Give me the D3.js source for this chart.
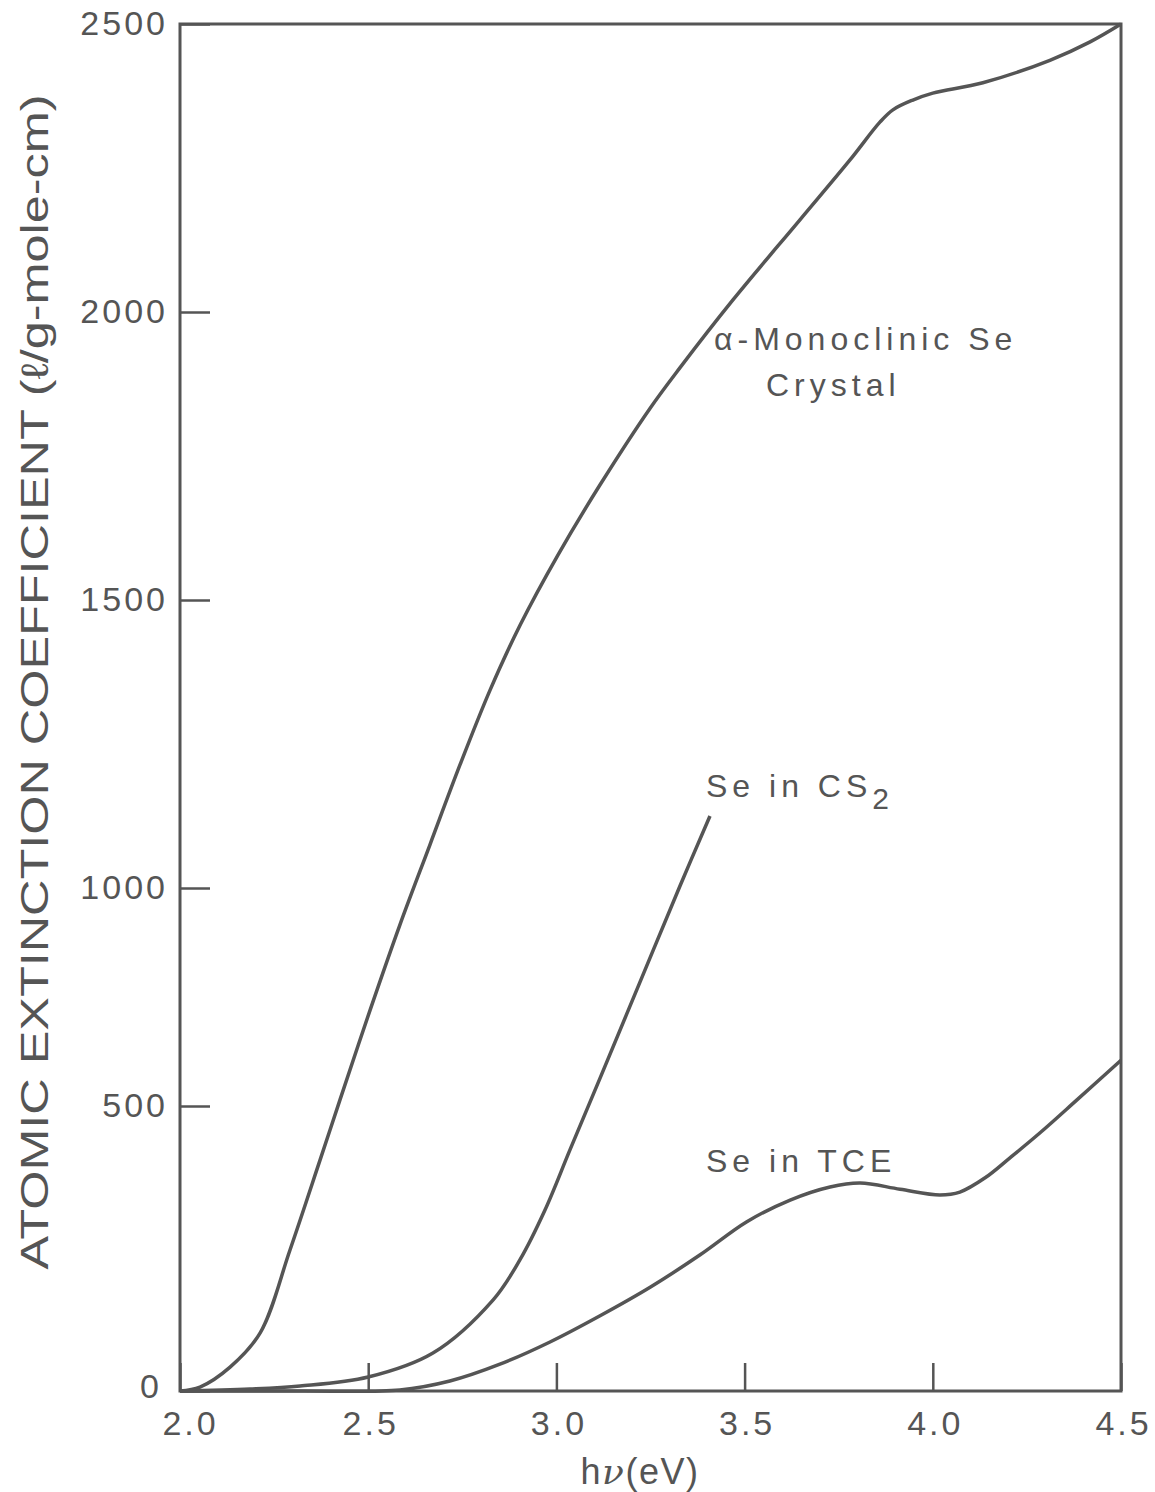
<!DOCTYPE html>
<html>
<head>
<meta charset="utf-8">
<script src="https://cdn.jsdelivr.net/npm/d3@7"></script>
<style>
  body { margin: 0; background: #fff; }
  svg text { fill: #555; font-family: "Liberation Sans", "DejaVu Sans", sans-serif; }
</style>
</head>
<body>
<div class="chart"></div>
<script>
// hν (eV) and extinction values
const monoX = [2.0, 2.053, 2.133, 2.213, 2.292, 2.372, 2.425, 2.505, 2.584, 2.664, 2.744, 2.824, 2.904, 3.004, 3.116, 3.249, 3.328, 3.469, 3.647, 3.780, 3.860, 3.894, 3.947, 4.0, 4.133, 4.311, 4.418, 4.5];
const monoY = [0, 7, 42, 102, 247, 405, 514, 720, 915, 1075, 1214, 1344, 1457, 1578, 1700, 1833, 1903, 2021, 2160, 2264, 2330, 2351, 2368, 2380, 2398, 2437, 2469, 2500];

const cs2X = [2.0, 2.186, 2.319, 2.5, 2.672, 2.832, 2.903, 2.970, 3.036, 3.116, 3.222, 3.328, 3.408];
const cs2Y = [0, 3.5, 8.8, 24.6, 66.7, 160, 230, 318, 423, 564, 784, 1003, 1125];

const tceX = [2.0, 2.319, 2.584, 2.717, 2.850, 2.983, 3.116, 3.249, 3.382, 3.506, 3.621, 3.727, 3.807, 3.913, 4.019, 4.072, 4.139, 4.205, 4.285, 4.383, 4.5];
const tceY = [0, 0, 1.8, 17.5, 47, 86, 132, 182, 239, 297, 335, 358, 365, 354, 344, 349, 374, 409, 453, 514, 605];

const xTicks = [2.0, 2.5, 3.0, 3.5, 4.0, 4.5];
const yTicks = [0, 500, 1000, 1500, 2000, 2500];

const width = 1155, height = 1492;
const plotLeft = 180, plotRight = 1121, plotTop = 24, plotBottom = 1391;

const svg = d3.select(".chart").append("svg")
  .attr("width", width)
  .attr("height", height);

const x = d3.scaleLinear().domain([2.0, 4.5]).range([plotLeft, plotRight]);
// the printed axis is not evenly spaced, so follow each tick mark
const y = d3.scaleLinear().domain(yTicks).range([1391, 1106, 888, 600, 312, 24]);

const ink = "#555";

// frame
svg.append("rect")
  .attr("x", plotLeft).attr("y", plotTop)
  .attr("width", plotRight - plotLeft).attr("height", plotBottom - plotTop)
  .attr("fill", "none").attr("stroke", ink).attr("stroke-width", 3);

// x axis
const gx = svg.append("g")
  .attr("transform", `translate(0,${plotBottom})`)
  .call(d3.axisBottom(x).tickValues(xTicks).tickSize(-28).tickPadding(20).tickFormat(d3.format(".1f")));
gx.select(".domain").remove();
gx.selectAll(".tick line").attr("stroke", ink).attr("stroke-width", 2.5);
gx.selectAll(".tick text")
  .attr("font-size", 34).attr("letter-spacing", 3).attr("fill", ink)
  .attr("dx", (d) => (d === 2.0 ? 10 : 2));

// y axis
const gy = svg.append("g")
  .attr("transform", `translate(${plotLeft},0)`)
  .call(d3.axisLeft(y).tickValues(yTicks).tickSize(-30).tickPadding(12).tickFormat(d3.format("d")));
gy.select(".domain").remove();
gy.selectAll(".tick line").attr("stroke", ink).attr("stroke-width", 2.5);
gy.selectAll(".tick text")
  .attr("font-size", 34).attr("letter-spacing", 3).attr("fill", ink)
  .attr("dx", (d) => (d === 0 ? -6 : 0))
  .attr("dy", (d) => (d === 0 ? "0.2em" : "0.32em"));

// axis titles
svg.append("text")
  .attr("transform", "translate(48,682) rotate(-90)")
  .attr("text-anchor", "middle")
  .attr("font-size", 38)
  .attr("textLength", 1175)
  .attr("lengthAdjust", "spacingAndGlyphs")
  .attr("font-family", "'Liberation Sans Narrow', 'Liberation Sans', sans-serif")
  .text("ATOMIC EXTINCTION COEFFICIENT (ℓ/g-mole-cm)");

const xt = svg.append("text")
  .attr("x", 640).attr("y", 1484)
  .attr("text-anchor", "middle")
  .attr("font-size", 36)
  .attr("letter-spacing", 1.5);
xt.append("tspan").text("h");
xt.append("tspan").attr("font-style", "italic").attr("font-family", "'DejaVu Serif', serif").text("ν");
xt.append("tspan").text("(eV)");

// curves
const series = [
  { xs: monoX, ys: monoY },
  { xs: cs2X, ys: cs2Y },
  { xs: tceX, ys: tceY },
];

const line = d3.line()
  .x((d) => x(d[0]))
  .y((d) => y(d[1]))
  .curve(d3.curveCatmullRom.alpha(0.5));

svg.selectAll("path.curve")
  .data(series)
  .enter()
  .append("path")
  .attr("class", "curve")
  .attr("d", (s) => line(d3.zip(s.xs, s.ys)))
  .attr("fill", "none")
  .attr("stroke", ink)
  .attr("stroke-width", 3.5)
  .attr("stroke-linejoin", "round");

// labels on the curves
function label(px, py, str) {
  return svg.append("text")
    .attr("x", px).attr("y", py)
    .attr("font-size", 32)
    .attr("letter-spacing", 5)
    .text(str);
}

label(714, 350, "α-Monoclinic Se");
label(766, 396, "Crystal");
const cs = label(706, 797, "Se in CS");
cs.append("tspan").attr("dy", 12).attr("font-size", 30).text("2");
label(706, 1172, "Se in TCE");
</script>
</body>
</html>
